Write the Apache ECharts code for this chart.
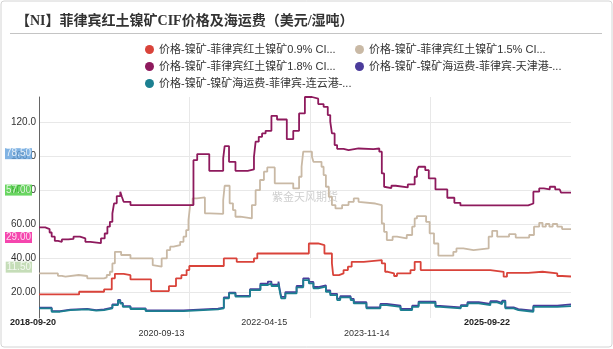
<!DOCTYPE html>
<html>
<head>
<meta charset="utf-8">
<script src="https://cdn.jsdelivr.net/npm/echarts@6/dist/echarts.min.js"></script>
<style>
  html, body { margin: 0; padding: 0; background: #fff; }
  #chart { width: 613px; height: 349px; }
</style>
</head>
<body>
<div id="chart"></div>
<script>
// Date range and axis labels
const startDate = '2018-09-20';
const endDate = '2025-09-22';
const xLabelDates = ['2018-09-20', '2020-09-13', '2022-04-15', '2023-11-14', '2025-09-22'];
const xStaggerDates = ['2020-09-13', '2023-11-14'];
const xGridDates = ['2020-09-13', '2022-04-15', '2023-11-14'];
const yTickValues = [20, 40, 60, 80, 100, 120];
const yTickLabels = ['20.00', '40.00', '60.00', '80.00', '100.0', '120.0'];

const seriesNames = [
  '价格-镍矿-菲律宾红土镍矿0.9% CIF价格',
  '价格-镍矿-菲律宾红土镍矿1.5% CIF价格',
  '价格-镍矿-菲律宾红土镍矿1.8% CIF价格',
  '价格-镍矿-镍矿海运费-菲律宾-天津港-海运费',
  '价格-镍矿-镍矿海运费-菲律宾-连云港-海运费'
];
const seriesColors = ['#d9433a', '#c9b9a5', '#8e1a5d', '#4b3c9b', '#1c8091'];

// Each list holds [date the level starts, value] (USD / wet ton)
const ni09 = [
  ['2018-09-20', 18.4], ['2019-04-01', 20.0], ['2019-07-30', 21.4], ['2019-09-05', 27.9],
  ['2019-09-20', 30.6], ['2019-11-01', 29.8], ['2019-12-04', 27.3], ['2020-03-12', 20.4],
  ['2020-06-06', 23.3], ['2020-07-10', 27.9], ['2020-08-05', 29.8], ['2020-08-30', 32.8],
  ['2020-09-12', 35.2], ['2021-02-25', 39.7], ['2021-04-28', 37.7], ['2021-07-20', 39.7],
  ['2021-08-05', 42.6], ['2022-04-10', 48.5], ['2022-05-25', 47.6], ['2022-06-24', 42.6],
  ['2022-07-30', 36.7], ['2022-08-05', 29.8], ['2022-09-02', 30.8], ['2022-09-24', 32.8],
  ['2022-10-15', 34.8], ['2022-11-02', 37.7], ['2022-12-30', 38.7], ['2023-03-27', 36.7],
  ['2023-04-12', 31.8], ['2023-04-25', 30.8], ['2023-05-25', 29.3], ['2023-06-08', 30.8],
  ['2023-08-12', 32.8], ['2023-09-01', 37.7], ['2023-09-30', 32.8], ['2024-08-30', 31.8],
  ['2024-11-02', 28.9], ['2024-11-18', 31.2], ['2025-02-28', 31.8], ['2025-05-08', 30.8],
  ['2025-07-18', 29.3], ['2025-08-10', 29.0], ['2025-09-22', 29.0]
];
const ni15 = [
  ['2018-09-20', 30.8], ['2018-12-20', 29.4], ['2019-01-08', 28.9], ['2019-01-25', 29.9],
  ['2019-03-30', 29.3], ['2019-05-10', 27.9], ['2019-07-30', 28.5], ['2019-08-12', 29.9],
  ['2019-08-27', 31.8], ['2019-09-08', 36.7], ['2019-09-20', 43.6], ['2019-10-20', 41.7],
  ['2019-12-04', 39.7], ['2020-03-20', 35.7], ['2020-03-28', 34.8], ['2020-05-02', 39.7],
  ['2020-05-27', 44.6], ['2020-06-12', 46.6], ['2020-06-28', 47.6], ['2020-07-30', 49.5],
  ['2020-08-15', 52.5], ['2020-08-28', 56.4], ['2020-09-08', 62.3], ['2020-09-16', 71.2],
  ['2020-09-28', 75.1], ['2020-10-18', 75.7], ['2020-11-26', 66.3], ['2020-12-20', 66.0],
  ['2021-02-22', 74.1], ['2021-03-01', 82.6], ['2021-03-25', 72.2], ['2021-04-10', 68.2],
  ['2021-04-22', 64.3], ['2021-05-15', 63.3], ['2021-07-10', 71.2], ['2021-07-28', 80.0],
  ['2021-08-18', 86.0], ['2021-09-06', 90.9], ['2021-09-22', 93.4], ['2021-10-28', 84.0],
  ['2022-01-25', 81.0], ['2022-02-22', 87.9], ['2022-03-06', 93.8], ['2022-03-14', 102.7],
  ['2022-04-25', 99.7], ['2022-05-02', 96.7], ['2022-06-10', 93.8], ['2022-06-20', 88.9],
  ['2022-07-01', 82.0], ['2022-07-15', 76.1], ['2022-07-30', 71.2], ['2022-08-16', 69.2],
  ['2022-09-17', 71.2], ['2022-10-18', 73.1], ['2022-11-12', 75.1], ['2022-12-05', 73.1],
  ['2022-12-12', 72.1], ['2023-02-24', 71.2], ['2023-03-27', 60.3], ['2023-04-07', 55.4],
  ['2023-04-20', 50.5], ['2023-05-18', 52.5], ['2023-06-08', 51.5], ['2023-07-25', 53.5],
  ['2023-08-20', 58.4], ['2023-09-01', 63.3], ['2023-09-12', 64.7], ['2023-10-26', 61.3],
  ['2023-11-12', 54.5], ['2023-12-03', 48.5], ['2023-12-24', 41.3], ['2024-03-05', 43.6],
  ['2024-03-20', 45.6], ['2024-04-22', 44.6], ['2024-06-10', 45.6], ['2024-08-22', 52.5],
  ['2024-09-08', 56.0], ['2024-10-02', 52.5], ['2024-11-28', 54.0], ['2024-12-30', 52.0],
  ['2025-03-05', 53.5], ['2025-03-28', 58.4], ['2025-04-22', 60.7], ['2025-05-08', 58.4],
  ['2025-05-24', 60.0], ['2025-06-10', 58.4], ['2025-06-26', 60.0], ['2025-07-18', 58.4],
  ['2025-08-10', 57.0], ['2025-09-22', 57.0]
];
const ni18 = [
  ['2018-09-20', 58.0], ['2018-10-20', 57.0], ['2018-11-10', 55.0], ['2018-11-20', 52.5],
  ['2018-12-05', 50.0], ['2018-12-20', 49.5], ['2019-01-08', 50.9], ['2019-02-08', 51.2],
  ['2019-03-05', 52.5], ['2019-04-05', 51.5], ['2019-05-01', 49.5], ['2019-05-25', 48.7],
  ['2019-07-15', 51.5], ['2019-08-02', 54.4], ['2019-08-15', 58.4], ['2019-08-27', 61.3],
  ['2019-09-08', 66.2], ['2019-09-16', 72.2], ['2019-09-29', 76.5], ['2019-10-16', 79.0],
  ['2019-10-24', 76.0], ['2019-11-01', 73.1], ['2019-12-04', 71.2], ['2020-10-02', 97.7],
  ['2020-10-20', 101.3], ['2020-12-17', 91.4], ['2021-02-22', 98.7], ['2021-03-01', 106.0],
  ['2021-03-22', 96.7], ['2021-04-22', 91.4], ['2021-06-20', 92.2], ['2021-07-20', 99.7],
  ['2021-07-28', 108.6], ['2021-08-12', 111.5], ['2021-08-28', 113.5], ['2021-09-14', 115.0],
  ['2021-10-12', 123.9], ['2021-11-08', 121.7], ['2021-12-25', 110.1], ['2022-01-25', 115.0],
  ['2022-02-22', 125.3], ['2022-03-22', 135.0], ['2022-04-25', 134.0], ['2022-05-25', 130.8],
  ['2022-06-20', 129.2], ['2022-07-10', 124.3], ['2022-07-22', 120.4], ['2022-07-30', 113.5],
  ['2022-08-12', 106.6], ['2022-08-24', 104.4], ['2022-09-24', 103.6], ['2022-10-18', 104.6],
  ['2022-12-05', 104.2], ['2023-02-15', 104.6], ['2023-03-15', 102.7], ['2023-03-27', 89.9],
  ['2023-04-07', 82.0], ['2023-04-12', 81.2], ['2023-05-12', 82.6], ['2023-06-02', 81.6],
  ['2023-07-30', 83.4], ['2023-09-01', 87.9], ['2023-09-12', 91.8], ['2023-09-20', 93.8],
  ['2023-10-22', 91.8], ['2023-11-08', 86.9], ['2023-12-10', 80.4], ['2024-02-05', 75.5],
  ['2024-03-10', 72.5], ['2024-04-08', 71.0], ['2025-02-28', 72.1], ['2025-03-25', 79.1],
  ['2025-04-22', 81.0], ['2025-05-14', 80.4], ['2025-06-12', 82.0], ['2025-07-08', 80.4],
  ['2025-07-30', 79.6], ['2025-08-05', 78.5], ['2025-09-22', 78.5]
];
const freightTianjin = [
  ['2018-09-20', 10.6], ['2018-11-20', 8.6], ['2018-12-30', 9.5], ['2019-02-18', 9.0],
  ['2019-02-26', 9.9], ['2019-05-10', 9.1], ['2019-06-22', 9.6], ['2019-07-30', 10.6],
  ['2019-09-08', 12.6], ['2019-10-05', 15.2], ['2019-10-16', 13.4], ['2019-10-28', 11.5],
  ['2019-12-04', 10.2], ['2020-02-15', 9.0], ['2020-08-15', 10.0], ['2021-01-28', 10.6],
  ['2021-02-25', 16.6], ['2021-03-22', 19.5], ['2021-04-22', 17.6], ['2021-07-01', 21.5],
  ['2021-08-20', 24.8], ['2021-09-25', 26.0], ['2021-10-12', 24.2], ['2021-11-15', 26.0],
  ['2021-11-20', 22.0], ['2021-11-28', 17.0], ['2021-12-18', 19.8], ['2022-02-10', 23.4],
  ['2022-03-14', 27.9], ['2022-04-10', 25.8], ['2022-05-02', 22.8], ['2022-05-25', 23.8],
  ['2022-07-01', 20.8], ['2022-07-22', 18.8], ['2022-08-24', 15.9], ['2022-09-08', 17.4],
  ['2022-10-28', 15.8], ['2022-11-12', 13.8], ['2023-01-12', 10.8], ['2023-03-20', 12.8],
  ['2023-04-20', 11.8], ['2023-06-25', 9.8], ['2023-08-20', 11.8], ['2023-09-20', 14.2],
  ['2023-12-10', 11.6], ['2024-01-01', 10.8], ['2024-04-10', 12.1], ['2024-05-12', 13.8],
  ['2024-07-05', 12.8], ['2024-08-30', 14.4], ['2024-10-02', 13.4], ['2024-10-26', 14.8],
  ['2024-11-10', 10.8], ['2024-12-20', 9.8], ['2025-01-12', 8.8], ['2025-03-25', 11.8],
  ['2025-07-18', 12.5], ['2025-09-22', 12.5]
];
const freightLianyungang = [
  ['2018-09-20', 10.2], ['2018-11-20', 8.2], ['2018-12-30', 9.2], ['2019-02-18', 8.6],
  ['2019-02-26', 9.6], ['2019-05-10', 8.8], ['2019-06-22', 9.2], ['2019-07-30', 10.2],
  ['2019-09-08', 12.1], ['2019-10-05', 14.7], ['2019-10-16', 13.0], ['2019-10-28', 11.1],
  ['2019-12-04', 9.8], ['2020-02-15', 8.6], ['2020-08-15', 9.6], ['2021-01-28', 10.2],
  ['2021-02-25', 16.1], ['2021-03-22', 19.0], ['2021-04-22', 17.1], ['2021-07-01', 21.0],
  ['2021-08-20', 24.0], ['2021-09-25', 25.0], ['2021-10-12', 23.4], ['2021-11-15', 25.0],
  ['2021-11-20', 21.0], ['2021-11-28', 16.1], ['2021-12-18', 19.0], ['2022-02-10', 22.6],
  ['2022-03-14', 26.9], ['2022-04-10', 25.0], ['2022-05-02', 22.0], ['2022-05-25', 23.0],
  ['2022-07-01', 20.0], ['2022-07-22', 18.0], ['2022-08-24', 15.1], ['2022-09-08', 16.7],
  ['2022-10-28', 15.1], ['2022-11-12', 13.1], ['2023-01-12', 10.2], ['2023-03-20', 12.1],
  ['2023-04-20', 11.1], ['2023-06-25', 9.2], ['2023-08-20', 11.1], ['2023-09-20', 13.5],
  ['2023-12-10', 11.1], ['2024-01-01', 10.2], ['2024-04-10', 11.5], ['2024-05-12', 13.1],
  ['2024-07-05', 12.1], ['2024-08-30', 13.7], ['2024-10-02', 12.7], ['2024-10-26', 14.1],
  ['2024-11-10', 10.2], ['2024-12-20', 9.2], ['2025-01-12', 8.2], ['2025-03-25', 11.1],
  ['2025-07-18', 11.5], ['2025-09-22', 11.5]
];
const seriesData = [ni09, ni15, ni18, freightTianjin, freightLianyungang];

// Latest-value tags on the left edge: which series, and the tag colour
const latestTags = [
  { series: 2, bg: '#62a0dc' },
  { series: 1, bg: '#44cc3a' },
  { series: 0, bg: '#f2189a' },
  { series: 4, bg: '#b6d5a6' }
];

// Daily category list
function buildDays(a, b) {
  const parse = s => Date.UTC(+s.slice(0, 4), +s.slice(5, 7) - 1, +s.slice(8, 10));
  const out = [];
  for (let t = parse(a), e = parse(b); t <= e; t += 86400000) {
    out.push(new Date(t).toISOString().slice(0, 10));
  }
  return out;
}
const days = buildDays(startDate, endDate);
const dayIndex = new Map(days.map((d, i) => [d, i]));
const toPoints = list => list.map(([d, v]) => [dayIndex.get(d), v]);

const labelSet = new Set(xLabelDates);
const staggerSet = new Set(xStaggerDates);
const gridSet = new Set(xGridDates);
const yLabelMap = new Map(yTickValues.map((v, i) => [v, yTickLabels[i]]));

const FONT = "'Liberation Sans', 'Noto Sans CJK SC', sans-serif";

const lineSeries = seriesNames.map((name, i) => ({
  name,
  type: 'line',
  xAxisIndex: 0,
  yAxisIndex: 0,
  step: 'end',
  showSymbol: false,
  symbol: 'none',
  silent: true,
  color: seriesColors[i],
  lineStyle: { width: 1.8, color: seriesColors[i] },
  data: toPoints(seriesData[i]),
  z: 2 + i
}));

const tagSeries = {
  type: 'scatter',
  xAxisIndex: 0,
  yAxisIndex: 0,
  symbolSize: 0,
  silent: true,
  z: 20,
  data: latestTags.map(t => {
    const list = seriesData[t.series];
    const v = list[list.length - 1][1];
    return {
      value: [0, v],
      label: {
        show: true,
        position: 'left',
        distance: 7,
        offset: [0, -39],
        formatter: () => v.toFixed(2),
        color: '#fff',
        fontFamily: FONT,
        fontSize: 10,
        lineHeight: 11,
        backgroundColor: t.bg,
        padding: [0, 1]
      }
    };
  })
};

const chart = echarts.init(document.getElementById('chart'), null, { renderer: 'canvas' });
chart.setOption({
  animation: false,
  textStyle: { fontFamily: FONT },
  title: {
    text: '【NI】菲律宾红土镍矿CIF价格及海运费（美元/湿吨）',
    left: 16,
    top: 14,
    padding: 0,
    textStyle: {
      fontFamily: "'Liberation Serif', 'Noto Sans CJK SC', serif",
      fontWeight: 'bold',
      fontSize: 14,
      color: '#333'
    }
  },
  legend: {
    data: seriesNames,
    left: 145,
    top: 43,
    width: 420,
    padding: 0,
    itemGap: 4,
    itemWidth: 9,
    itemHeight: 9,
    icon: 'circle',
    formatter: n => (n.length > 20 ? n.slice(0, 20) + '...' : n),
    textStyle: { fontFamily: FONT, fontSize: 11, color: '#333', width: 192, lineHeight: 13 }
  },
  graphic: [
    {
      type: 'rect', silent: true, z: -10,
      shape: { x: 1, y: 1, width: 611, height: 346, r: 3 },
      style: { fill: 'none', stroke: '#d4d4d4', lineWidth: 1 }
    },
    {
      type: 'line', silent: true,
      shape: { x1: 10, y1: 33.5, x2: 602, y2: 33.5 },
      style: { stroke: '#c4c4c4', lineWidth: 1.2 }
    },
    {
      type: 'text', silent: true, z: 1,
      x: 305, y: 197,
      style: {
        text: '紫金天风期货',
        fill: '#cfcfcf',
        font: "11px 'Noto Sans CJK SC', sans-serif",
        align: 'center',
        verticalAlign: 'middle'
      }
    }
  ],
  grid: [
    { left: 39, right: 42, top: 97, bottom: 31 },
    { left: 33, right: 126, top: 97, bottom: 34 }
  ],
  xAxis: [
    {
      type: 'category',
      gridIndex: 0,
      data: days,
      boundaryGap: false,
      axisLine: { show: false },
      axisTick: { show: false },
      axisLabel: { show: false },
      splitLine: {
        show: true,
        interval: (idx, val) => gridSet.has(val),
        lineStyle: { color: '#e8e8e8', width: 1 }
      }
    },
    {
      type: 'category',
      gridIndex: 1,
      data: days,
      boundaryGap: false,
      axisLine: { show: false },
      axisTick: { show: false },
      splitLine: { show: false },
      axisLabel: {
        show: true,
        interval: (idx, val) => labelSet.has(val),
        margin: 3,
        fontSize: 9,
        color: '#333',
        formatter: val => {
          if (val === startDate || val === endDate) return '{b|' + val + '}';
          if (staggerSet.has(val)) return '{s|' + val + '}';
          return '{n|' + val + '}';
        },
        rich: {
          b: { fontWeight: 'bold', fontSize: 9, color: '#222', fontFamily: FONT },
          s: { fontSize: 9, color: '#333', padding: [11, 0, 0, 0], fontFamily: FONT },
          n: { fontSize: 9, color: '#333', fontFamily: FONT }
        }
      }
    }
  ],
  yAxis: [
    {
      type: 'value',
      gridIndex: 0,
      min: 4.5,
      max: 135,
      splitNumber: 6,
      axisLine: { show: true, lineStyle: { color: '#666', width: 1 } },
      axisTick: { show: false },
      axisLabel: {
        showMinLabel: false,
        showMaxLabel: false,
        margin: 3,
        fontSize: 10,
        color: '#333',
        formatter: v => yLabelMap.get(v) || ''
      },
      splitLine: {
        show: true,
        showMinLine: false,
        showMaxLine: false,
        lineStyle: { color: '#e8e8e8', width: 1 }
      }
    },
    { type: 'value', gridIndex: 1, show: false }
  ],
  series: [...lineSeries, tagSeries]
});
</script>
</body>
</html>
